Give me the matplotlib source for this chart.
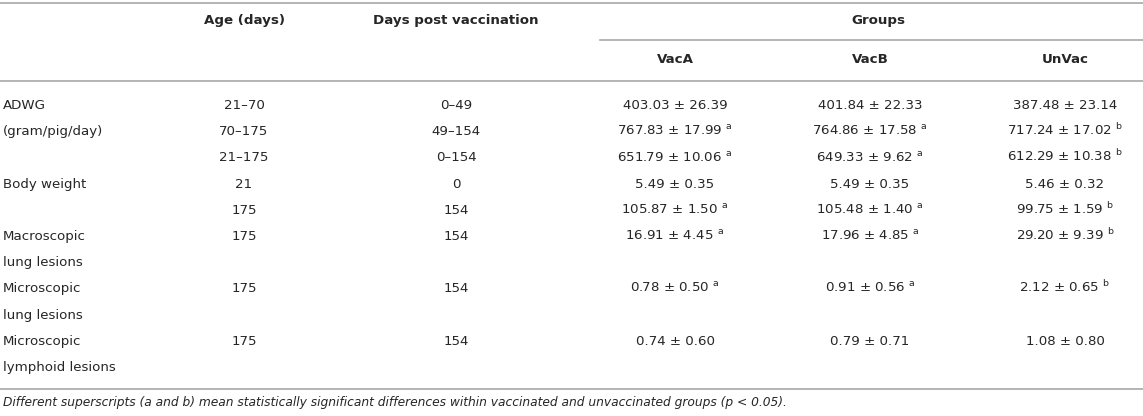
import matplotlib.pyplot as plt

plt.rcParams['font.family'] = ['DejaVu Sans']
plt.rcParams['mathtext.fontset'] = 'dejavusans'

# table content, one entry per printed line
row_labels = ['ADWG', '(gram/pig/day)', '', 'Body weight', '', 'Macroscopic', 'lung lesions',
              'Microscopic', 'lung lesions', 'Microscopic', 'lymphoid lesions']
age_days = ['21\u201370', '70\u2013175', '21\u2013175', '21', '175', '175', '', '175', '', '175', '']
days_post_vac = ['0\u201349', '49\u2013154', '0\u2013154', '0', '154', '154', '', '154', '', '154', '']
vac_a = ['403.03 \u00b1 26.39', '767.83 \u00b1 17.99', '651.79 \u00b1 10.06', '5.49 \u00b1 0.35',
         '105.87 \u00b1 1.50', '16.91 \u00b1 4.45', '', '0.78 \u00b1 0.50', '', '0.74 \u00b1 0.60', '']
vac_b = ['401.84 \u00b1 22.33', '764.86 \u00b1 17.58', '649.33 \u00b1 9.62', '5.49 \u00b1 0.35',
         '105.48 \u00b1 1.40', '17.96 \u00b1 4.85', '', '0.91 \u00b1 0.56', '', '0.79 \u00b1 0.71', '']
un_vac = ['387.48 \u00b1 23.14', '717.24 \u00b1 17.02', '612.29 \u00b1 10.38', '5.46 \u00b1 0.32',
          '99.75 \u00b1 1.59', '29.20 \u00b1 9.39', '', '2.12 \u00b1 0.65', '', '1.08 \u00b1 0.80', '']
sup_a = ['', 'a', 'a', '', 'a', 'a', '', 'a', '', '', '']
sup_b = ['', 'a', 'a', '', 'a', 'a', '', 'a', '', '', '']
sup_un = ['', 'b', 'b', '', 'b', 'b', '', 'b', '', '', '']
group_names = ['VacA', 'VacB', 'UnVac']
footnote = ('Different superscripts (a and b) mean statistically significant differences '
            'within vaccinated and unvaccinated groups (p < 0.05).')

W, H = 1143, 416
fig = plt.figure(figsize=(W / 100, H / 100), dpi=100)
ax = fig.add_axes([0, 0, 1, 1])
ax.set_xlim(0, W)
ax.set_ylim(H, 0)
ax.axis('off')

txt = '#262626'
rule = '#a8a8a8'
fs = 9.6

# rules
ax.plot([0, W], [3, 3], color=rule, lw=1.2)
ax.plot([600, W], [39.5, 39.5], color=rule, lw=1.2)
ax.plot([0, W], [80.5, 80.5], color=rule, lw=1.2)
ax.plot([0, W], [389, 389], color=rule, lw=1.2)

# header
age_x, dpv_x = 244, 456
group_x = [675, 870, 1065]
ax.text(age_x, 24, 'Age (days)', ha='center', va='baseline', fontsize=9.6, weight='bold', color=txt)
ax.text(dpv_x, 24, 'Days post vaccination', ha='center', va='baseline', fontsize=9.6, weight='bold', color=txt)
ax.text(878, 24, 'Groups', ha='center', va='baseline', fontsize=9.6, weight='bold', color=txt)
for gx, name in zip(group_x, group_names):
    ax.text(gx, 63, name, ha='center', va='baseline', fontsize=9.6, weight='bold', color=txt)


def with_sup(val, s):
    if val and s:
        return val + ' $^{\\mathregular{' + s + '}}$'
    return val


row_y0, row_dy = 109, 26.2
for i in range(len(row_labels)):
    y = row_y0 + i * row_dy
    ax.text(3, y, row_labels[i], ha='left', va='baseline', fontsize=fs, color=txt)
    ax.text(age_x, y, age_days[i], ha='center', va='baseline', fontsize=fs, color=txt)
    ax.text(dpv_x, y, days_post_vac[i], ha='center', va='baseline', fontsize=fs, color=txt)
    for gx, col, sup in zip(group_x, [vac_a, vac_b, un_vac], [sup_a, sup_b, sup_un]):
        ax.text(gx, y, with_sup(col[i], sup[i]), ha='center', va='baseline', fontsize=fs, color=txt)

ax.text(3, 406, footnote, ha='left', va='baseline', fontsize=8.8, style='italic', color=txt)

fig.savefig('out.png', dpi=100)
